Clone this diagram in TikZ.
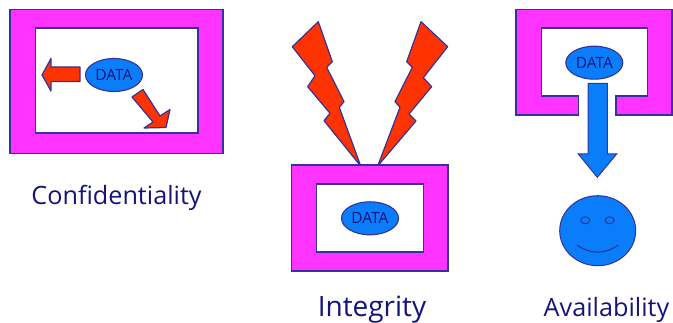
\documentclass[tikz,border=0pt]{standalone}
\usepackage{fontspec}
\setmainfont{Open Sans}
\definecolor{fmag}{HTML}{FF33FF}
\definecolor{fred}{HTML}{FF3300}
\definecolor{fblue}{HTML}{0A7DFA}
\definecolor{edge}{HTML}{333399}
\definecolor{ink}{HTML}{14147A}
\tikzset{
  frame/.style={fill=fmag,draw=edge,line width=1.1pt,line join=miter},
  hole/.style={fill=white,draw=edge,line width=1.1pt},
  redshape/.style={fill=fred,draw=edge,line width=1.2pt,line join=round},
  blueshape/.style={fill=fblue,draw=edge,line width=1pt,line join=miter},
  datanode/.style={ellipse,fill=fblue,draw=edge,line width=1.1pt,minimum width=57pt,minimum height=33pt,inner sep=0pt,font=\fontsize{15.5}{16}\selectfont,text=ink},
  caption/.style={font=\fontsize{25.2}{30}\selectfont,text=ink,inner sep=0pt,anchor=base},
  bigcaption/.style={caption,font=\fontsize{28}{30}\selectfont}
}
\usetikzlibrary{shapes.geometric}
\begin{document}
\begin{tikzpicture}[x=1pt,y=-1pt]
\useasboundingbox (0,0) rectangle (673,323);
% Confidentiality
\draw[frame] (10,9.5) rectangle (223,153.5);
\draw[hole] (35.5,28) rectangle (198,133);
\node[datanode] (d1) at (114,75) {DATA};
\draw[redshape] (42,75) -- (51,58.5) -- (51,67) -- (80,67) -- (80,81.5) -- (51,81.5) -- (51,91) -- cycle;
\draw[redshape] (132,97) -- (143,89.5) -- (160,116) -- (170,109.5) -- (166,127.5) -- (144,128) -- (153,122) -- cycle;
\node[caption] (c1) at (116.5,205) {Confidentiality};
% Integrity
\draw[redshape] (318.3,21.7) -- (292.3,46.7) -- (315,75.7) -- (307.7,86.7) -- (330,113.3) -- (324,120.7) -- (360.7,166) -- (339.3,107.3) -- (344,101.7) -- (326.7,67.3) -- (332.3,61.7) -- cycle;
\draw[redshape] (421,21.7) -- (447.7,46.7) -- (423.3,77.7) -- (431.7,86.7) -- (409,114) -- (416,121) -- (377.7,166) -- (400,107.3) -- (395,101.7) -- (412.3,67.3) -- (406.7,61.7) -- cycle;
\draw[frame] (291.5,165) rectangle (448,271);
\draw[hole] (316.7,184) rectangle (423.3,252);
\node[datanode] (d2) at (370,218.3) {DATA};
\node[bigcaption] (c2) at (372,316.5) {Integrity};
% Availability
\draw[frame] (578.3,115) -- (516,115) -- (516,9.5) -- (672,9.5) -- (672,115) -- (616,115) -- (616,96) -- (647.7,96) -- (647.7,28) -- (541.7,28) -- (541.7,96) -- (578.3,96) -- cycle;
\node[datanode] (d3) at (594.3,62.7) {DATA};
\draw[blueshape] (588,83.5) -- (607.3,83.5) -- (607.3,154) -- (616.7,154) -- (597.3,177.3) -- (578.3,154) -- (588,154) -- cycle;
\draw[blueshape] (597.7,230.7) ellipse [x radius=38,y radius=35];
\draw[blueshape] (585.3,220.3) ellipse [x radius=4.5,y radius=3.5];
\draw[blueshape] (609.7,220.3) ellipse [x radius=4.5,y radius=3.5];
\draw[edge,line width=1.1pt] (577,245) .. controls (590,254.5) and (605,254.5) .. (618.3,245);
\node[caption] (c3) at (606.5,316.5) {Availability};
\end{tikzpicture}
\end{document}
